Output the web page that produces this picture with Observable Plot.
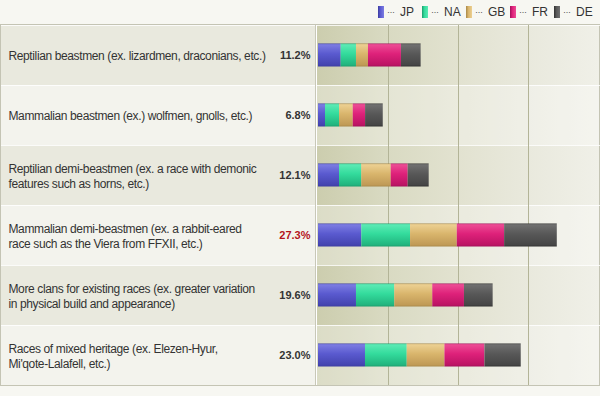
<!DOCTYPE html>
<html><head><meta charset="utf-8">
<script src="https://cdn.jsdelivr.net/npm/d3@7"></script>
<script src="https://cdn.jsdelivr.net/npm/@observablehq/plot@0.6"></script>
<style>
html,body{margin:0;padding:0;background:#f7f7f2;width:600px;height:396px;overflow:hidden;font-family:"Liberation Sans",Arial,sans-serif;}
#legend{height:24px;display:flex;justify-content:flex-end;align-items:center;padding-right:2px;font-size:12px;color:#333;box-sizing:border-box;}
.item{display:flex;align-items:center;width:44px;}
.sw{width:6px;height:12px;margin-right:3px;box-sizing:border-box;}
.dots{color:#555;width:9px;margin-right:4px;font-size:9px;letter-spacing:-0.5px;overflow:hidden;white-space:nowrap;}
#chart svg{display:block;}
</style></head><body>
<div id="legend"></div>
<div id="chart"></div>
<script>
const categories = [
  "Reptilian beastmen (ex. lizardmen, draconians, etc.)",
  "Mammalian beastmen (ex.) wolfmen, gnolls, etc.)",
  "Reptilian demi-beastmen (ex. a race with demonic\nfeatures such as horns, etc.)",
  "Mammalian demi-beastmen (ex. a rabbit-eared\nrace such as the Viera from FFXII, etc.)",
  "More clans for existing races (ex. greater variation\nin physical build and appearance)",
  "Races of mixed heritage (ex. Elezen-Hyur,\nMi'qote-Lalafell, etc.)"
];
const regions = ["JP", "NA", "GB", "FR", "DE"];
const jp = [2.59, 0.80, 2.40, 4.95, 4.34, 5.37];
const na = [1.75, 1.60, 2.55, 5.57, 4.38, 4.77];
const gb = [1.37, 1.57, 3.36, 5.34, 4.34, 4.31];
const fr = [3.77, 1.41, 1.94, 5.41, 3.62, 4.57];
const de = [2.25, 2.02, 2.40, 6.02, 3.28, 4.15];
const totals = [11.2, 6.8, 12.1, 27.3, 19.6, 23.0];
const gridTicks = [8, 16, 24];
const xDomain = [0, 32];

const series = [jp, na, gb, fr, de];
const palette = {
  JP: ["#3c3ca0", "#7c7ce2", "#5a5acf", "#4444b0"],
  NA: ["#1c9c6c", "#5ceab4", "#33db9c", "#22b47e"],
  GB: ["#a88848", "#ecd092", "#d9b56c", "#c09a56"],
  FR: ["#a0105a", "#ec4c94", "#de217a", "#bc1464"],
  DE: ["#303030", "#707070", "#585858", "#464646"]
};

// legend
const leg = document.getElementById("legend");
regions.forEach(r => {
  const p = palette[r];
  const it = document.createElement("div"); it.className = "item";
  const sw = document.createElement("span"); sw.className = "sw";
  sw.style.background = `linear-gradient(to right, ${p[0]}, ${p[2]} 40%, ${p[1]})`;
  const dots = document.createElement("span"); dots.className = "dots"; dots.textContent = "···";
  const t = document.createElement("span"); t.textContent = r;
  it.append(sw, dots, t); leg.append(it);
});

const rows = [];
categories.forEach((c, i) => regions.forEach((r, j) => rows.push({cat: c, region: r, value: series[j][i]})));
const maxTotal = d3.max(totals);
const font = '"Liberation Sans",Arial,sans-serif';

const plot = Plot.plot({
  width: 600, height: 372,
  marginLeft: 318, marginRight: 2, marginTop: 1, marginBottom: 11,
  style: {fontFamily: font, fontSize: "12px", background: "transparent", color: "#333", overflow: "visible"},
  x: {domain: xDomain, axis: null},
  y: {domain: categories, axis: null, padding: 0},
  color: {domain: regions, range: regions.map(r => `url(#grad-${r})`)},
  marks: [
    Plot.ruleX(gridTicks, {stroke: "#b3b497", strokeWidth: 1, strokeOpacity: 1}),
    Plot.barX(rows, Plot.stackX({x: "value", y: "cat", fill: "region", order: regions, insetTop: 18.5, insetBottom: 18.5})),
    Plot.text(categories, {y: d => d, text: d => d, frameAnchor: "left", dx: -310, textAnchor: "start", fill: "#333", fontSize: 12, lineHeight: 1.25}),
    Plot.text(totals.map((v, i) => ({v, cat: categories[i]})).filter(d => d.v !== maxTotal), {y: "cat", text: d => d.v.toFixed(1) + "%", frameAnchor: "left", dx: -8, textAnchor: "end", fontWeight: "bold", fontSize: 11, fill: "#333"}),
    Plot.text(totals.map((v, i) => ({v, cat: categories[i]})).filter(d => d.v === maxTotal), {y: "cat", text: d => d.v.toFixed(1) + "%", frameAnchor: "left", dx: -8, textAnchor: "end", fontWeight: "bold", fontSize: 11, fill: "#b3141c"})
  ]
});

const svg = d3.select(plot);
// tighter tracking for row labels (first text mark)
svg.selectAll('g[aria-label="text"]').filter((d, i) => i === 0).attr("letter-spacing", "-0.38px");

const defs = svg.insert("defs", ":first-child");
regions.forEach(r => {
  const p = palette[r];
  const g = defs.append("linearGradient").attr("id", `grad-${r}`).attr("x1", 0).attr("y1", 0).attr("x2", 0).attr("y2", 1);
  [[0, p[0]], [0.05, p[1]], [0.45, p[2]], [0.93, p[3]], [1, p[0]]].forEach(([o, c]) => g.append("stop").attr("offset", o).attr("stop-color", c));
});
const bg = defs.append("linearGradient").attr("id", "bgGrad").attr("x1", 0).attr("y1", 0).attr("x2", 1).attr("y2", 0);
[[0, "#cccdae"], [0.25, "#d9dac2"], [0.5, "#e2e2d0"], [0.75, "#e9e9dd"], [1, "#f0f0e8"]].forEach(([o, c]) => bg.append("stop").attr("offset", o).attr("stop-color", c));

const ys = plot.scale("y");
const xs = plot.scale("x");
const bw = ys.bandwidth;
const x0 = xs.apply(xDomain[0]);
const yTop = ys.apply(categories[0]);
const yBottom = ys.apply(categories[categories.length - 1]) + bw;
const gBack = svg.insert("g", "defs + *");
gBack.append("rect").attr("x", 0).attr("y", yTop - 1).attr("width", 600).attr("height", yBottom - yTop + 2).attr("fill", "#c4c4b4");
categories.forEach((c, i) => {
  const y = ys.apply(c);
  gBack.append("rect").attr("x", 1).attr("y", y).attr("width", x0 - 3).attr("height", bw).attr("fill", i % 2 ? "#f3f3ed" : "#e9e9de");
});
gBack.append("rect").attr("x", x0 - 1).attr("y", yTop).attr("width", 600 - x0).attr("height", yBottom - yTop).attr("fill", "url(#bgGrad)");
categories.forEach((c, i) => {
  const y = ys.apply(c);
  if (i % 2) gBack.append("rect").attr("x", x0 - 1).attr("y", y).attr("width", 600 - x0).attr("height", bw).attr("fill", "#ffffff").attr("fill-opacity", 0.3);
  gBack.append("line").attr("x1", 1).attr("x2", 600).attr("y1", y + 0.5).attr("y2", y + 0.5).attr("stroke", "#ffffff").attr("stroke-opacity", 0.8);
});
gBack.append("line").attr("x1", x0 - 2.5).attr("x2", x0 - 2.5).attr("y1", yTop).attr("y2", yBottom).attr("stroke", "#c8c8b8");
gBack.append("line").attr("x1", x0 - 1.5).attr("x2", x0 - 1.5).attr("y1", yTop).attr("y2", yBottom).attr("stroke", "#ffffff");

document.getElementById("chart").append(plot);
</script>
</body></html>
